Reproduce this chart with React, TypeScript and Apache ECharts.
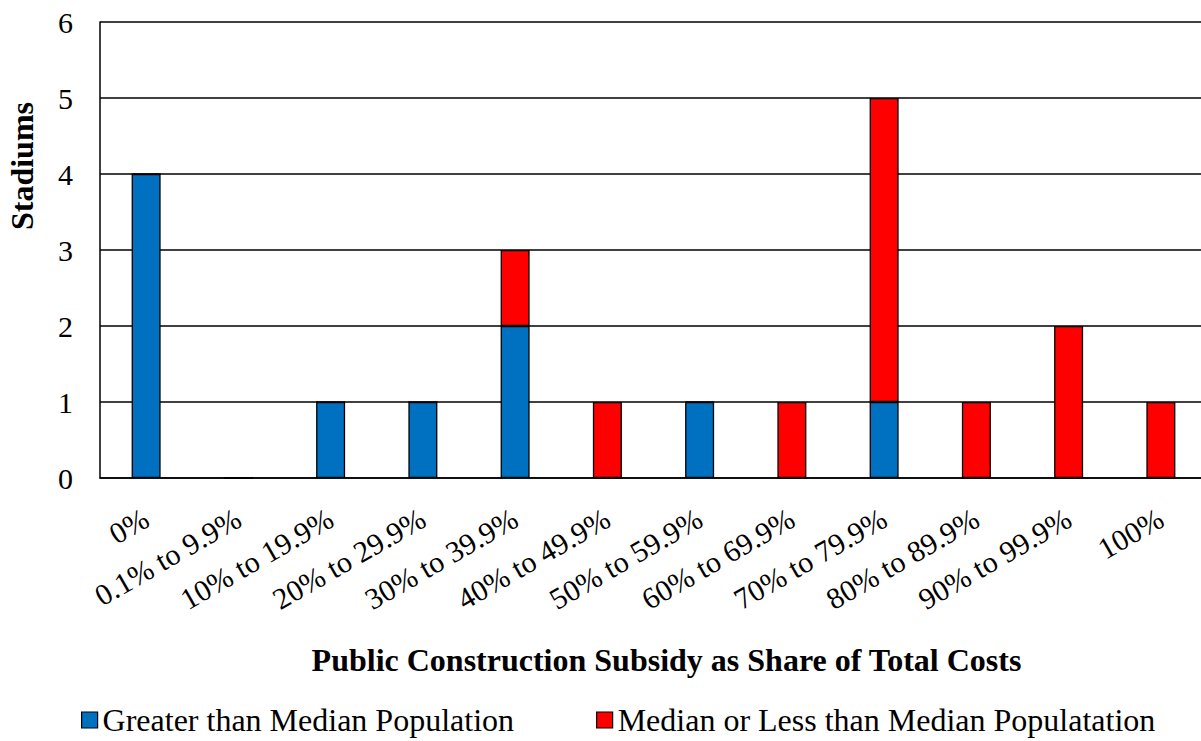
import React, { useEffect, useRef } from "react";
import * as echarts from "echarts";

const categories = ["0%", "0.1% to 9.9%", "10% to 19.9%", "20% to 29.9%", "30% to 39.9%", "40% to 49.9%", "50% to 59.9%", "60% to 69.9%", "70% to 79.9%", "80% to 89.9%", "90% to 99.9%", "100%"];
const greater = [4, 0, 1, 1, 2, 0, 1, 0, 1, 0, 0, 0];
const medianOrLess = [0, 0, 0, 0, 1, 1, 0, 1, 4, 1, 2, 1];
const seriesNames = ["Greater than Median Population", "Median or Less than Median Populatation"];
const yTitle = "Stadiums";
const xTitle = "Public Construction Subsidy as Share of Total Costs";

export default function App() {
  const ref = useRef<HTMLDivElement>(null);
  useEffect(() => {
    if (!ref.current) return;
    const chart = echarts.init(ref.current, null, { renderer: "svg" });
    const font = "Liberation Serif";
    chart.setOption({
      animation: false,
      textStyle: { fontFamily: font },
      grid: { left: 100, top: 22, width: 1107, height: 456, containLabel: false, outerBoundsMode: "none" },
      legend: {
        left: 76,
        top: 699,
        itemWidth: 16,
        itemHeight: 16,
        itemGap: 82,
        icon: "rect",
        textStyle: { fontFamily: font, fontSize: 32, color: "#000" },
        data: seriesNames.map((n) => ({ name: n, itemStyle: { borderColor: "#000", borderWidth: 1.2 } })),
      },
      graphic: [
        {
          type: "text",
          x: 22,
          y: 166,
          rotation: Math.PI / 2,
          style: {
            text: yTitle,
            fontFamily: font,
            fontSize: 32,
            fontWeight: "bold",
            fill: "#000",
            align: "center",
            verticalAlign: "middle",
          },
        },
      ],
      xAxis: {
        type: "category",
        data: categories,
        name: xTitle,
        nameLocation: "middle",
        nameGap: 166,
        nameTextStyle: { fontFamily: font, fontSize: 32, fontWeight: "bold", color: "#000", padding: [0, 0, 0, 26] },
        axisLine: { show: true, lineStyle: { color: "#000", width: 1.5 } },
        axisTick: { show: false },
        axisLabel: { rotate: 30, fontSize: 30, color: "#000", fontFamily: font, interval: 0, margin: 38 },
      },
      yAxis: {
        type: "value",
        min: 0,
        max: 6,
        interval: 1,
        axisLine: { show: true, lineStyle: { color: "#000", width: 1.5 } },
        axisTick: { show: false },
        axisLabel: { fontSize: 30, color: "#000", fontFamily: font, margin: 27 },
        splitLine: { show: true, lineStyle: { color: "#000", width: 1.5 } },
      },
      series: [
        {
          name: seriesNames[0],
          type: "bar",
          stack: "total",
          data: greater,
          barWidth: 29,
          itemStyle: { color: "#0070C0", borderColor: "#000", borderWidth: 1.3 },
        },
        {
          name: seriesNames[1],
          type: "bar",
          stack: "total",
          data: medianOrLess,
          barWidth: 29,
          itemStyle: { color: "#FF0000", borderColor: "#000", borderWidth: 1.3 },
        },
      ],
    });
    return () => chart.dispose();
  }, []);
  return <div ref={ref} style={{ width: 1201, height: 741, position: "absolute", left: 0, top: 0 }} />;
}
